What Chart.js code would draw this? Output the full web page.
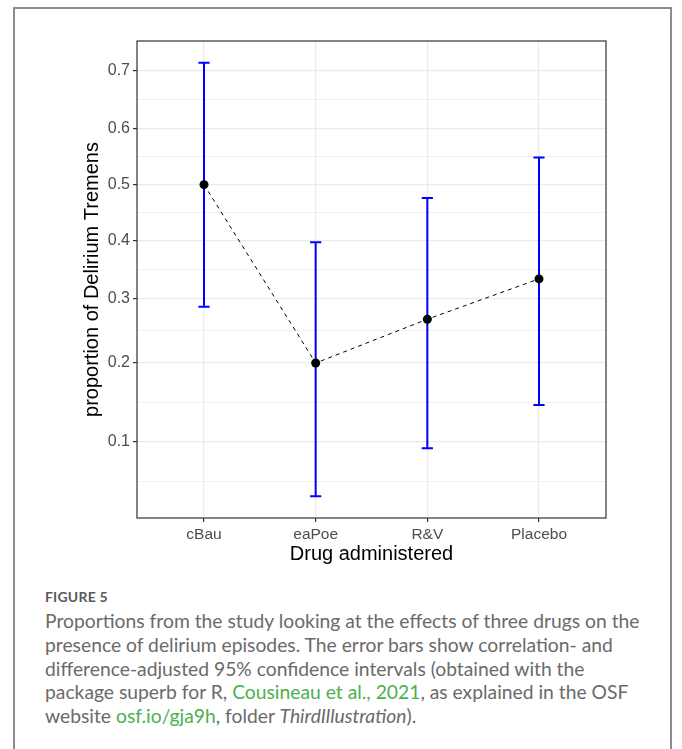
<!DOCTYPE html>
<html>
<head>
<meta charset="utf-8">
<script src="https://cdn.jsdelivr.net/npm/chart.js@4.4.0/dist/chart.umd.min.js"></script>
<style>
  body { margin: 0; background: #fff; width: 682px; height: 749px; overflow: hidden; position: relative; }
  .cadre { position: absolute; left: 13px; top: 7px; width: 659px; height: 760px;
           border: 2px solid #8c8c8c; box-sizing: border-box; }
  .graf { position: absolute; left: 0; top: 0; width: 682px; height: 570px; }
  .legenda { position: absolute; left: 45px; top: 586px; width: 630px; font-family: Lato, "Open Sans", sans-serif; color: #6a6a6a; }
  .legenda .fig { font-size: 14px; font-weight: bold; color: #5a5a5a; letter-spacing: 0.2px; line-height: 22px; }
  .legenda .txt { font-size: 19.3px; line-height: 23.8px; margin-top: 1px; }
  .legenda a { color: #4caf50; text-decoration: none; }
</style>
</head>
<body>
<div class="cadre"></div>
<div class="graf"><canvas id="grafico"></canvas></div>
<div class="legenda">
  <div class="fig">FIGURE 5</div>
  <div class="txt">Proportions from the study looking at the effects of three drugs on the<br>presence of delirium episodes. The error bars show correlation- and<br>difference-adjusted 95% confidence intervals (obtained with the<br>package superb for R, <a>Cousineau et al., 2021</a>, as explained in the OSF<br>website <a>osf.io/gja9h</a>, folder <i>ThirdIllustration</i>).</div>
</div>
<script>
// dados (proporcoes)
const drogas = ['cBau', 'eaPoe', 'R&V', 'Placebo'];
const proporcao = [0.5, 0.2, 0.2667, 0.3333];
const icInferior = [0.287, 0.049, 0.093, 0.143];
const icSuperior = [0.713, 0.397, 0.476, 0.549];
const ticksY = [0.1, 0.2, 0.3, 0.4, 0.5, 0.6, 0.7];

// escala arcoseno (como no superb)
const asin = (p) => Math.asin(Math.sqrt(p));

const tMin = Math.min(...icInferior.map(asin));
const tMax = Math.max(...icSuperior.map(asin));
const expansao = (tMax - tMin) * 0.05;

// linhas menores no meio das maiores (estilo ggplot)
const maiores = ticksY.map(asin);
const passo = maiores[1] - maiores[0];
const menores = [maiores[0] - passo / 2];
for (let i = 0; i < maiores.length - 1; i++) menores.push((maiores[i] + maiores[i + 1]) / 2);

const barrasErro = {
  id: 'barrasErro',
  beforeDatasetsDraw(chart) {
    const { ctx, scales: { x, y } } = chart;
    ctx.save();
    ctx.strokeStyle = '#0000ff';
    ctx.lineWidth = 2;
    drogas.forEach((d, i) => {
      const px = x.getPixelForValue(i);
      const y1 = y.getPixelForValue(asin(icInferior[i]));
      const y2 = y.getPixelForValue(asin(icSuperior[i]));
      const a = x.getPixelForValue(i - 0.05);
      const b = x.getPixelForValue(i + 0.05);
      ctx.beginPath();
      ctx.moveTo(px, y1); ctx.lineTo(px, y2);
      ctx.moveTo(a, y1); ctx.lineTo(b, y1);
      ctx.moveTo(a, y2); ctx.lineTo(b, y2);
      ctx.stroke();
    });
    ctx.restore();
  },
  afterDraw(chart) {
    const { ctx, chartArea: c } = chart;
    ctx.save();
    ctx.strokeStyle = '#333333';
    ctx.lineWidth = 1.2;
    ctx.strokeRect(c.left, c.top, c.right - c.left, c.bottom - c.top);
    ctx.restore();
  }
};

const config = {
  type: 'line',
  data: {
    datasets: [{
      data: proporcao.map((p, i) => ({ x: i, y: asin(p) })),
      borderColor: '#000',
      borderWidth: 1,
      borderDash: [4, 4],
      pointRadius: 4.5,
      pointBackgroundColor: '#000',
      pointBorderColor: '#000',
      pointBorderWidth: 0,
      tension: 0
    }]
  },
  options: {
    responsive: true,
    maintainAspectRatio: false,
    animation: false,
    layout: { padding: { left: 80, right: 76, top: 41, bottom: 4 } },
    plugins: { legend: { display: false }, tooltip: { enabled: false } },
    scales: {
      x: {
        type: 'linear',
        min: -0.6,
        max: drogas.length - 1 + 0.6,
        afterBuildTicks: (s) => { s.ticks = drogas.map((d, i) => ({ value: i })); },
        afterFit: (s) => { s.height = 48; },
        ticks: {
          autoSkip: false,
          maxRotation: 0,
          padding: 3,
          color: '#4d4d4d',
          font: { family: 'Liberation Sans, Arial', size: 15.5 },
          callback: (v) => drogas[v]
        },
        grid: { color: '#ebebeb', lineWidth: 1.2, tickLength: 4, tickColor: '#333' },
        border: { display: false },
        title: {
          display: true,
          text: 'Drug administered',
          color: '#000',
          padding: 0,
          font: { family: 'Liberation Sans, Arial', size: 20 }
        }
      },
      y: {
        type: 'linear',
        min: tMin - expansao,
        max: tMax + expansao,
        afterBuildTicks: (s) => {
          s.ticks = [...menores.map(v => ({ value: v, menor: true })), ...maiores.map(v => ({ value: v }))]
            .sort((a, b) => a.value - b.value);
        },
        afterFit: (s) => { s.width = 57; },
        ticks: {
          autoSkip: false,
          padding: 3,
          color: '#4d4d4d',
          font: { family: 'Liberation Sans, Arial', size: 16 },
          callback: (v, i, t) => t[i].menor ? '' : (Math.sin(v) ** 2).toFixed(1)
        },
        grid: {
          color: '#ebebeb',
          lineWidth: (c) => c.tick && c.tick.menor ? 0.7 : 1.2,
          tickLength: 4,
          tickColor: (c) => c.tick && c.tick.menor ? 'rgba(0,0,0,0)' : '#333'
        },
        border: { display: false },
        title: {
          display: true,
          text: 'proportion of Delirium Tremens',
          color: '#000',
          padding: 0,
          font: { family: 'Liberation Sans, Arial', size: 20 }
        }
      }
    }
  },
  plugins: [barrasErro]
};

const meuGrafico = new Chart(document.getElementById('grafico'), config);
</script>
</body>
</html>
